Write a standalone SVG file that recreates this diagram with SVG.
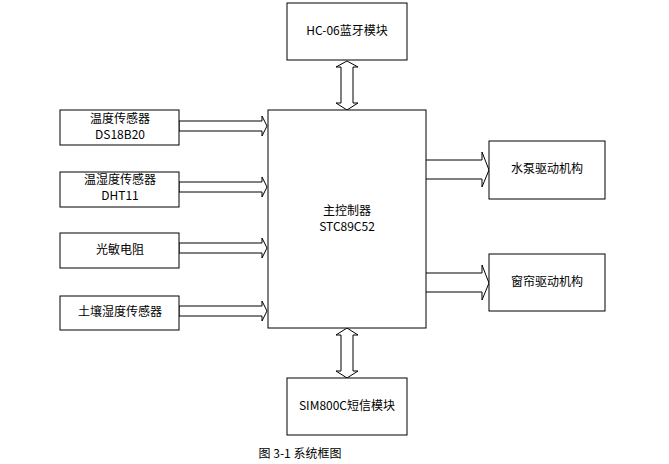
<svg xmlns="http://www.w3.org/2000/svg" width="669" height="464" viewBox="0 0 669 464">
<style>
rect{fill:#fff;stroke:#000;stroke-width:1}
.a{fill:#fff;stroke:#000;stroke-width:1}
text{font-family:"Noto Sans CJK SC","Liberation Sans",sans-serif;font-size:12px;text-anchor:middle;dominant-baseline:middle}
</style>
<rect width="669" height="464" style="stroke:none"/>
<g id="connectors">
<path class="a" d="M179,121 H262 V116 L267,126 L262,136 V131 H179 Z"/>
<path class="a" d="M179,182 H262 V177 L267,187 L262,197 V192 H179 Z"/>
<path class="a" d="M179,243 H262 V238 L267,248 L262,258 V253 H179 Z"/>
<path class="a" d="M179,306 H262 V301 L267,311 L262,321 V316 H179 Z"/>
<path class="a" d="M425,160 H482 V152 L489,170 L482,187 V179 H425 Z"/>
<path class="a" d="M425,273 H482 V265 L489,283 L482,300 V292 H425 Z"/>
<path class="a" d="M347,61 L358,67 H353 V103 H358 L347,110 L336,103 H341 V67 H336 Z"/>
<path class="a" d="M347,328 L358,335 H353 V371 H358 L347,378 L336,371 H341 V335 H336 Z"/>
</g>
<g id="hc06"><rect x="287" y="3" width="120" height="57"/><text x="347" y="32">HC-06蓝牙模块</text></g>
<g id="mcu"><rect x="268" y="110" width="158" height="218"/><text x="347" y="212">主控制器</text><text x="347" y="228">STC89C52</text></g>
<g id="ds18b20"><rect x="60" y="110" width="119" height="35"/><text x="120" y="120">温度传感器</text><text x="120" y="136">DS18B20</text></g>
<g id="dht11"><rect x="60" y="172" width="119" height="35"/><text x="120" y="181">温湿度传感器</text><text x="120" y="197">DHT11</text></g>
<g id="ldr"><rect x="60" y="233" width="119" height="35"/><text x="120" y="251">光敏电阻</text></g>
<g id="soil"><rect x="60" y="296" width="119" height="34"/><text x="120" y="313">土壤湿度传感器</text></g>
<g id="pump"><rect x="489" y="141" width="116" height="58"/><text x="547" y="170">水泵驱动机构</text></g>
<g id="curtain"><rect x="489" y="254" width="116" height="57"/><text x="547" y="283">窗帘驱动机构</text></g>
<g id="sim800c"><rect x="287" y="378" width="120" height="57"/><text x="347" y="407">SIM800C短信模块</text></g>
<text x="300" y="455">图 3-1 系统框图</text>
</svg>
